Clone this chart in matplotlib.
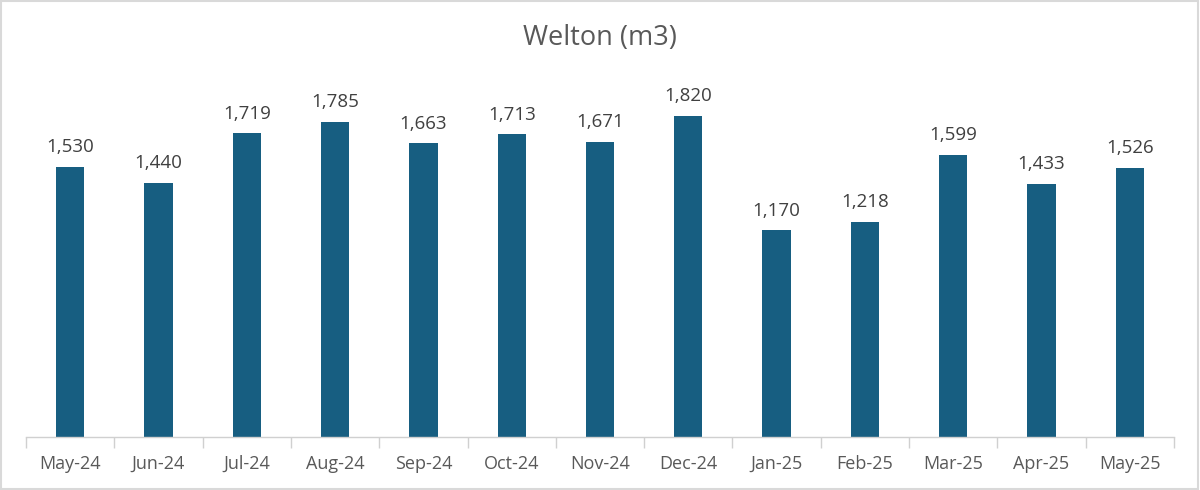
import matplotlib.pyplot as plt
from matplotlib.patches import Rectangle

months = ['May-24', 'Jun-24', 'Jul-24', 'Aug-24', 'Sep-24', 'Oct-24', 'Nov-24',
          'Dec-24', 'Jan-25', 'Feb-25', 'Mar-25', 'Apr-25', 'May-25']
volumes = [1530, 1440, 1719, 1785, 1663, 1713, 1671, 1820, 1170, 1218, 1599, 1433, 1526]

bar_color = '#175E81'
text_color = '#595959'

plt.rcParams['font.family'] = ['Open Sans', 'DejaVu Sans']

fig = plt.figure(figsize=(12, 4.9), dpi=100)
ax = fig.add_axes([0.0217, 0.108, 0.9566, 0.721])

x = range(len(months))
bars = ax.bar(x, volumes, width=0.32, color=bar_color, zorder=2)
for xi, v in zip(x, volumes):
    ax.text(xi, v + 60, f'{v:,}', ha='center', va='bottom', fontsize=13.5, color='#404040')

ax.set_xlim(-0.5, len(months) - 0.5)
ax.set_ylim(0, 2000)
ax.set_yticks([])
ax.set_xticks(list(x))
ax.set_xticklabels(months, fontsize=13, color=text_color)
ax.tick_params(axis='x', length=0, pad=13)
# category separator ticks below the axis line
ax.set_xticks([i - 0.5 for i in range(len(months) + 1)], minor=True)
ax.tick_params(axis='x', which='minor', length=8, color='#D0D0D0', width=1)

for s in ['top', 'right', 'left']:
    ax.spines[s].set_visible(False)
ax.spines['bottom'].set_color('#D0D0D0')
ax.spines['bottom'].set_linewidth(1)

fig.text(0.5, 0.922, 'Welton (m3)', ha='center', va='center', fontsize=19.5, color=text_color)

fig.patches.append(Rectangle((0.001, 0.002), 0.997, 0.995, transform=fig.transFigure,
                             fill=False, edgecolor='#D9D9D9', linewidth=1.5))

fig.savefig('out.png', dpi=100)
